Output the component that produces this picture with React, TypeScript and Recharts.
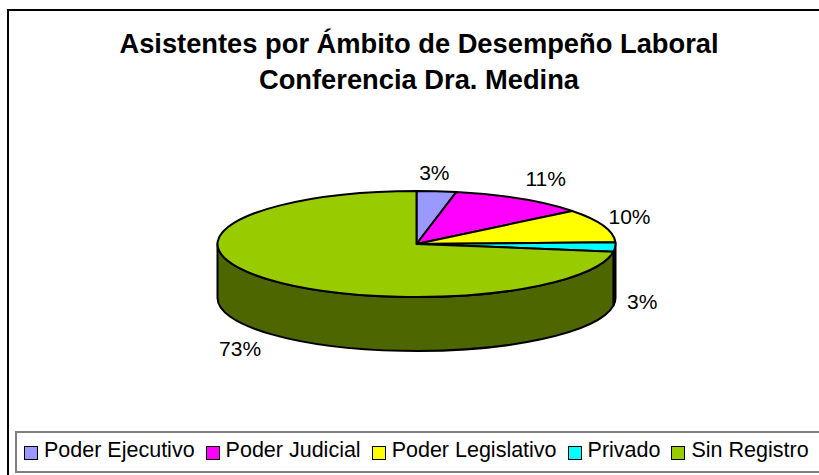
import { PieChart, Pie, Legend } from 'recharts';

const categories = ['Poder Ejecutivo', 'Poder Judicial', 'Poder Legislativo', 'Privado', 'Sin Registro'];
const values = [3.2, 11.1, 10.2, 2.8, 72.7];
const topColors = ['#9999FF', '#FF00FF', '#FFFF00', '#00FFFF', '#99CC00'];
const sideColors = ['#4D4D80', '#800080', '#808000', '#008080', '#4D6600'];
const titleLines = ['Asistentes por Ámbito de Desempeño Laboral', 'Conferencia Dra. Medina'];

const total = values.reduce((a, b) => a + b, 0);
const rows = categories.map((name, i) => ({
  name,
  value: values[i],
  fill: topColors[i],
  side: sideColors[i],
}));

const W = 819;
const H = 475;
const CX = 416.5;
const CY = 244;
const RX = 199;
const RY = 53;
const DEPTH = 54;
const FONT = '"Liberation Sans", Arial, sans-serif';
// small hand nudges so the percent labels sit where Excel put them
const labelNudge = [[-5, 3], [10, -2], [-1, -2], [-2, -1], [-4, 1]];

// recharts angles run counter-clockwise from 3 o'clock; squash them onto the ellipse
function pt(cx: number, cy: number, deg: number) {
  const a = (deg * Math.PI) / 180;
  return { x: cx + RX * Math.cos(a), y: cy - RY * Math.sin(a) };
}

function arc(cx: number, cy: number, from: number, to: number) {
  // from > to, clockwise on screen
  const a = pt(cx, cy, from);
  const b = pt(cx, cy, to);
  const large = from - to > 180 ? 1 : 0;
  return { a, b, d: `A ${RX} ${RY} 0 ${large} 1 ${b.x} ${b.y}` };
}

function TopSlice(props: any) {
  const { cx, cy, startAngle, endAngle, fill } = props;
  const { a, d } = arc(cx, cy, startAngle, endAngle);
  return (
    <path
      d={`M ${cx} ${cy} L ${a.x} ${a.y} ${d} Z`}
      fill={fill}
      stroke="#000"
      strokeWidth={2}
      strokeLinejoin="round"
    />
  );
}

// only the part of the rim on the front half of the pie shows
function WallSlice(props: any) {
  const { cx, cy, startAngle, endAngle, payload } = props;
  const from = Math.min(startAngle, 0);
  const to = Math.max(endAngle, -180);
  if (from <= to) return <g />;
  const top = arc(cx, cy, from, to);
  const bottomA = pt(cx, cy + DEPTH, from);
  const bottomB = pt(cx, cy + DEPTH, to);
  const back = `A ${RX} ${RY} 0 ${from - to > 180 ? 1 : 0} 0 ${bottomA.x} ${bottomA.y}`;
  return (
    <path
      d={`M ${top.a.x} ${top.a.y} ${top.d} L ${bottomB.x} ${bottomB.y} ${back} Z`}
      fill={payload.side}
      stroke="#000"
      strokeWidth={2}
      strokeLinejoin="round"
    />
  );
}

function PercentLabel(props: any) {
  const { cx, cy, midAngle, value, index } = props;
  const a = (midAngle * Math.PI) / 180;
  const s = Math.sin(a);
  const [nx, ny] = labelNudge[index];
  const x = cx + 228 * Math.cos(a) + nx;
  const y = cy - 75 * s + (s < 0 ? DEPTH : 0) + ny;
  return (
    <text x={x} y={y} textAnchor="middle" dominantBaseline="central" fontFamily={FONT} fontSize={21} fill="#000">
      {`${Math.round((value / total) * 100)}%`}
    </text>
  );
}

function LegendBox({ payload }: any) {
  // both pies feed the legend, keep one entry per category
  const entries = (payload ?? []).filter(
    (e: any, i: number, arr: any[]) => arr.findIndex((x) => x.value === e.value) === i,
  );
  return (
    <div
      style={{
        boxSizing: 'border-box',
        height: 42,
        border: '2px solid #7f7f7f',
        display: 'flex',
        alignItems: 'center',
        paddingLeft: 7,
        paddingBottom: 3,
        whiteSpace: 'nowrap',
        fontFamily: FONT,
        fontSize: 21.5,
        color: '#000',
      }}
    >
      {entries.map((entry: any) => (
        <span key={entry.value} style={{ display: 'inline-flex', alignItems: 'center', marginRight: 11 }}>
          <span
            style={{
              boxSizing: 'border-box',
              width: 14,
              height: 14,
              marginRight: 6,
              marginTop: 4,
              background: entry.color,
              border: '1.5px solid #000',
            }}
          />
          {entry.value}
        </span>
      ))}
    </div>
  );
}

export default function App() {
  return (
    <div style={{ position: 'absolute', left: 0, top: 0, width: W, height: H, background: '#fff', overflow: 'hidden' }}>
      <PieChart width={W} height={H} margin={{ top: 0, right: 0, bottom: 0, left: 0 }}>
        <rect x={8} y={10} width={900} height={600} fill="#fff" stroke="#000" strokeWidth={2} />
        {titleLines.map((line, i) => (
          <text
            key={line}
            x={419}
            y={53 + i * 36}
            textAnchor="middle"
            fontFamily={FONT}
            fontWeight="bold"
            fontSize={27.3}
            fill="#000"
          >
            {line}
          </text>
        ))}
        <Pie
          data={rows}
          dataKey="value"
          nameKey="name"
          cx={CX}
          cy={CY}
          outerRadius={RY}
          startAngle={90}
          endAngle={-270}
          legendType="none"
          shape={WallSlice}
          isAnimationActive={false}
        />
        <Pie
          data={rows}
          dataKey="value"
          nameKey="name"
          cx={CX}
          cy={CY}
          outerRadius={RY}
          startAngle={90}
          endAngle={-270}
          shape={TopSlice}
          label={PercentLabel}
          labelLine={false}
          isAnimationActive={false}
        />
        <Legend
          content={LegendBox}
          wrapperStyle={{ left: 15, top: 431, width: 830, height: 42, bottom: 'auto' }}
        />
      </PieChart>
    </div>
  );
}
